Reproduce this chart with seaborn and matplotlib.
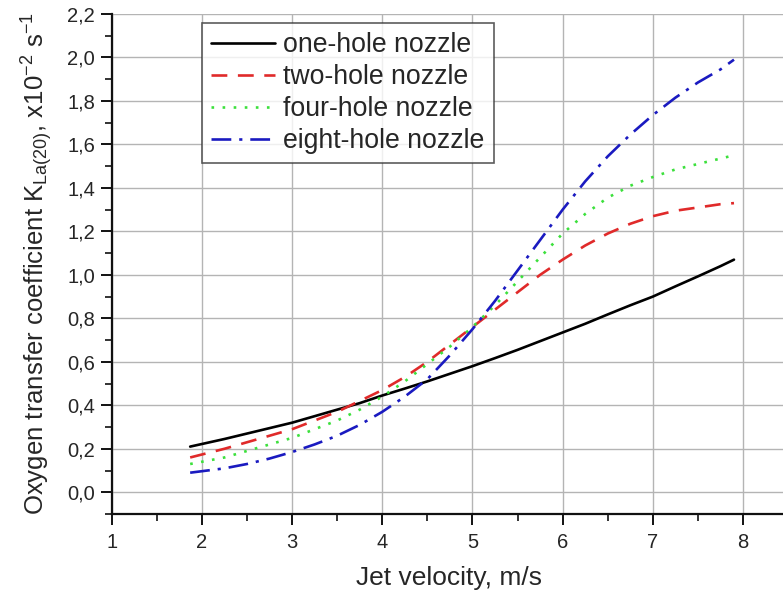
import matplotlib
matplotlib.use("Agg")
import matplotlib.pyplot as plt
import matplotlib.ticker as mticker
import seaborn as sns
import pandas as pd

# ---- data ----
velocity = [1.87, 2.25, 2.5, 2.75, 3.0, 3.25, 3.5, 3.75, 4.0, 4.25, 4.5, 4.75, 5.0,
            5.25, 5.5, 5.75, 6.0, 6.25, 6.5, 6.75, 7.0, 7.25, 7.5, 7.75, 7.9]
one_hole = [0.21, 0.245, 0.27, 0.295, 0.32, 0.35, 0.38, 0.41, 0.445, 0.477, 0.51, 0.545, 0.58,
            0.617, 0.655, 0.695, 0.735, 0.775, 0.818, 0.86, 0.90, 0.947, 0.993, 1.04, 1.07]
two_hole = [0.16, 0.20, 0.23, 0.26, 0.29, 0.33, 0.37, 0.42, 0.47, 0.53, 0.60, 0.68, 0.76,
            0.84, 0.92, 1.00, 1.07, 1.135, 1.19, 1.235, 1.27, 1.295, 1.31, 1.325, 1.33]
four_hole = [0.13, 0.16, 0.19, 0.22, 0.25, 0.29, 0.33, 0.38, 0.44, 0.51, 0.59, 0.67, 0.76,
             0.86, 0.97, 1.08, 1.19, 1.28, 1.355, 1.41, 1.45, 1.485, 1.51, 1.535, 1.55]
eight_hole = [0.09, 0.11, 0.13, 0.155, 0.185, 0.22, 0.26, 0.31, 0.37, 0.44, 0.52, 0.63, 0.75,
              0.88, 1.02, 1.16, 1.30, 1.43, 1.545, 1.645, 1.735, 1.815, 1.885, 1.945, 1.99]
series_names = ["one-hole nozzle", "two-hole nozzle", "four-hole nozzle", "eight-hole nozzle"]
x_ticks = [1, 2, 3, 4, 5, 6, 7, 8]
y_ticks = [0.0, 0.2, 0.4, 0.6, 0.8, 1.0, 1.2, 1.4, 1.6, 1.8, 2.0, 2.2]

frames = []
for name, vals in zip(series_names, [one_hole, two_hole, four_hole, eight_hole]):
    frames.append(pd.DataFrame({"v": velocity, "k": vals, "series": name}))
df = pd.concat(frames, ignore_index=True)

sns.set_theme(style="white")
plt.rcParams["font.family"] = ["Liberation Sans", "DejaVu Sans"]
plt.rcParams["mathtext.default"] = "regular"

fig = plt.figure(figsize=(7.83, 5.94), dpi=100)
ax = fig.add_axes([111.7 / 783, 1 - 514 / 594, 1 - 111.7 / 783, 500 / 594])

colors = {"one-hole nozzle": "#000000", "two-hole nozzle": "#e02a2a",
          "four-hole nozzle": "#3ce03c", "eight-hole nozzle": "#1a1ac0"}
dashes = {"one-hole nozzle": "", "two-hole nozzle": (6, 4),
          "four-hole nozzle": (1, 3.2), "eight-hole nozzle": (7.5, 3, 1.2, 3)}

sns.lineplot(data=df, x="v", y="k", hue="series", style="series",
             hue_order=series_names, style_order=series_names,
             palette=colors, dashes=dashes, linewidth=1.9, ax=ax,
             legend=True)

ax.set_xlim(1, 8 + 40 / 90.2)
ax.set_ylim(-0.1, 2.2)
ax.set_xticks(x_ticks)
ax.set_yticks(y_ticks)
ax.xaxis.set_minor_locator(mticker.MultipleLocator(0.5))
ax.yaxis.set_minor_locator(mticker.MultipleLocator(0.1))
ax.set_yticklabels([f"{t:.1f}".replace(".", ",") for t in y_ticks])
ax.set_xticklabels([str(t) for t in x_ticks])

ax.grid(True, which="major", color="#b4b4b4", linewidth=1.0)
ax.set_axisbelow(True)
for s in ["top", "right"]:
    ax.spines[s].set_visible(False)
for s in ["left", "bottom"]:
    ax.spines[s].set_color("#111111")
    ax.spines[s].set_linewidth(1.6)

ax.tick_params(axis="both", which="major", direction="out", length=8, width=1.4,
               color="#111111", labelsize=14.5, pad=4, left=True, bottom=True)
ax.tick_params(axis="both", which="minor", direction="out", length=5, width=1.2,
               color="#111111", left=True, bottom=True)
ax.tick_params(axis="x", which="major", pad=6)

ax.set_xlabel("Jet velocity, m/s", fontsize=19)
ax.set_ylabel(r"Oxygen transfer coefficient K$_{La(20)}$, x10$^{-2}$ s$^{-1}$", fontsize=18.5)
ax.xaxis.set_label_coords(0.502, -0.105)
ax.yaxis.set_label_coords(-0.085, 0.5)

leg = ax.legend(loc="upper left", bbox_to_anchor=((202 - 111.7) / 671.3, (514 - 23) / 500),
                borderaxespad=0, fontsize=19.2, frameon=True, fancybox=False,
                edgecolor="#333333", handlelength=2.4, handletextpad=0.3,
                labelspacing=0.22, borderpad=0.35)
leg.get_frame().set_linewidth(1.2)
for line in leg.get_lines():
    line.set_linewidth(1.9)

fig.savefig("out.png", dpi=100)
